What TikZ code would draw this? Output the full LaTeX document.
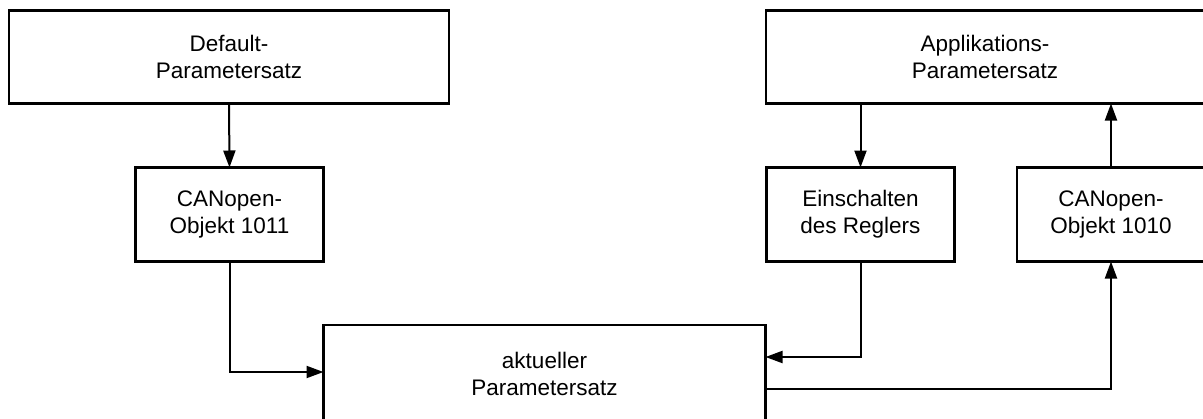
\documentclass[tikz,border=0pt]{standalone}
\usepackage{fontspec}
\setmainfont{Liberation Sans}
\usetikzlibrary{arrows.meta}
\tikzset{
  box/.style={draw, line width=2.8pt, align=center, inner sep=0pt, outer sep=0pt,
    font=\fontsize{22.5}{27}\selectfont},
  conn/.style={line width=2pt, -{Triangle[length=17pt,width=12pt]}},
}
\begin{document}
\begin{tikzpicture}[x=1pt,y=-1pt]
\clip (0,0) rectangle (1203,418);
\fill[white] (0,0) rectangle (1203,418);
\node[box, minimum width=440pt, minimum height=93pt] (def) at (229,57) {Default-\\Parametersatz};
\node[box, minimum width=438pt, minimum height=93pt] (app) at (985,57) {Applikations-\\Parametersatz};
\node[box, minimum width=188pt, minimum height=94pt] (c1011) at (229.5,214.5) {CANopen-\\Objekt 1011};
\node[box, minimum width=188pt, minimum height=94pt] (ein) at (860.5,214.5) {Einschalten\\des Reglers};
\node[box, minimum width=188pt, minimum height=94pt] (c1010) at (1111,214.5) {CANopen-\\Objekt 1010};
\node[box, minimum width=442pt, minimum height=98pt] (akt) at (544.5,374) {aktueller\\Parametersatz};
\draw[conn] (def.south) -- (c1011.north);
\draw[conn] (app.south -| ein.north) -- (ein.north);
\draw[conn] (c1010.north) -- (app.south -| c1010.north);
\draw[conn] (c1011.south) |- ([yshift=2pt]akt.west);
\draw[conn] (ein.south) |- ([yshift=17pt]akt.east);
\draw[conn] ([yshift=-15pt]akt.east) -| (c1010.south);
\end{tikzpicture}
\end{document}
